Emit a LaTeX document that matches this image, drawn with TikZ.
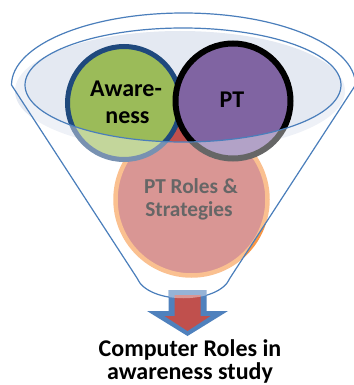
\documentclass[tikz,border=0pt]{standalone}
\usepackage{fontspec}
\setmainfont{Carlito}
\definecolor{fblue}{HTML}{4A7EBB}
\definecolor{ellfill}{HTML}{E4E9F2}
\definecolor{cgreen}{HTML}{9BBB59}
\definecolor{cgreenb}{HTML}{1F497D}
\definecolor{cpurple}{HTML}{8064A2}
\definecolor{cred}{HTML}{C0504D}
\definecolor{corange}{HTML}{F79646}
\definecolor{arblue}{HTML}{4F81BD}
\tikzset{
  bigtext/.style={font=\bfseries\fontsize{24}{26}\selectfont, inner sep=0pt, anchor=base},
  midtext/.style={font=\bfseries\fontsize{21.3}{23}\selectfont, inner sep=0pt, anchor=base},
  ring/.style={circle, inner sep=0pt, outer sep=0pt},
  funnelline/.style={draw=fblue, line width=1.2pt},
  veil/.style={white, fill opacity=0.4},
}
\def\funnelpath{(11.5,85) arc[start angle=180,end angle=0,x radius=172pt,y radius=72pt] -- (230,278) .. controls (219,305) and (148,305) .. (137,278) -- cycle}
\def\innerell{(183,85) ellipse[x radius=158pt,y radius=57pt]}
\begin{document}
\begin{tikzpicture}[x=1pt,y=-1pt]
\useasboundingbox (0,0) rectangle (353,385);
% opening of the funnel
\fill[ellfill] (180,91) ellipse[x radius=165pt,y radius=60pt];
% circles
\node[ring, fill=cred, draw=corange, line width=4.5pt, minimum size=152pt] (roles) at (191.5,199.5) {};
\node[midtext] (r1) at (191,193.5) {PT Roles \&};
\node[midtext] (r2) at (189,216) {Strategies};
\node[ring, fill=cgreen, draw=cgreenb, line width=5pt, minimum size=113pt] (aw) at (124,103) {};
\node[ring, fill=cpurple, draw=black, line width=6pt, minimum size=115pt] (pt) at (233,101) {};
\node[bigtext] (a1) at (126,96.5) {Aware-};
\node[bigtext] (a2) at (127.5,123) {ness};
\node[bigtext] (p1) at (232,107.5) {PT};
% translucent body of the funnel
\fill[veil, even odd rule] \funnelpath \innerell;
% outlines
\draw[funnelline] \funnelpath;
\draw[funnelline] \innerell;
% arrow
\fill[arblue] (168.5,290) -- (206.5,290) -- (206.5,311) -- (228,311) -- (187.5,336) -- (147,311) -- (168.5,311) -- cycle;
\fill[cred] (174.5,295) -- (200.5,295) -- (200.5,316) -- (210.5,316) -- (187.5,331) -- (164.5,316) -- (174.5,316) -- cycle;
\begin{scope}
\clip \funnelpath;
\fill[veil] (168.5,285) rectangle (206.5,305);
\end{scope}
% caption
\node[bigtext] (c1) at (190,356) {Computer Roles in};
\node[bigtext] (c2) at (190,379.5) {awareness study};
\end{tikzpicture}
\end{document}
